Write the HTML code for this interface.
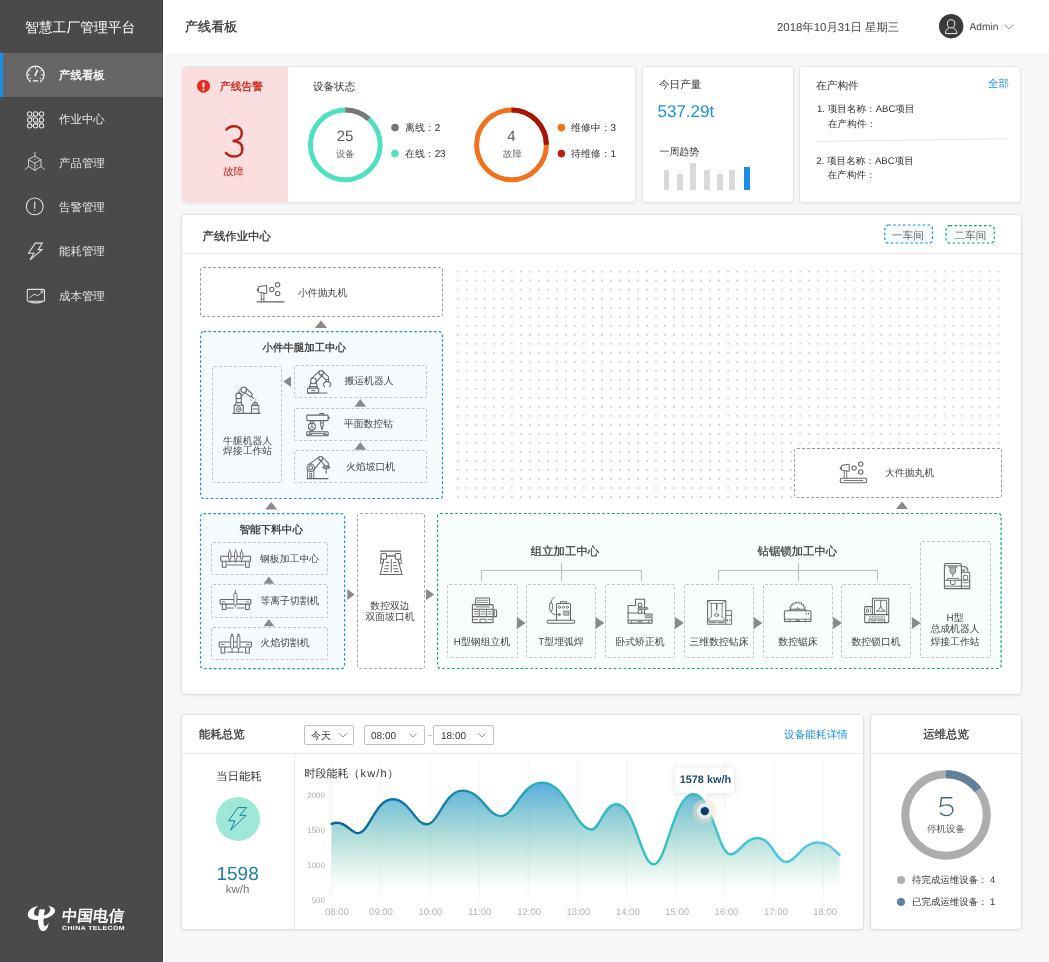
<!DOCTYPE html>
<html lang="zh">
<head>
<meta charset="utf-8">
<title>智慧工厂管理平台</title>
<style>
*{box-sizing:border-box;margin:0;padding:0}
html,body{width:1049px;height:962px;overflow:hidden;background:#f7f7f7}
body{font-family:"Liberation Sans",sans-serif;font-size:10px;color:#333;position:relative;text-rendering:geometricPrecision}
#wrap{position:absolute;left:0;top:0;width:1049px;height:962px;will-change:transform}
.abs{position:absolute}
.t{position:absolute;white-space:nowrap;line-height:1;margin-top:1px}
.c{transform:translateX(-50%)}
#side{position:absolute;left:0;top:0;width:163px;height:962px;background:#4a4a4a}
#side .brand{left:25px;top:19.7px;font-size:13.8px;color:#fff}
#side .act{position:absolute;left:0;top:53px;width:163px;height:44px;background:#666;border-left:3px solid #1b8fe6}
#side .mi{font-size:11.45px;color:#e6e6e6;left:59px}
#side svg{position:absolute}
#head{position:absolute;left:163px;top:0;width:886px;height:53px;background:#fff}
.card{position:absolute;background:#fff;border:1px solid #e6e6e6;border-radius:4px;box-shadow:0 1px 3px rgba(0,0,0,.06)}
.dash{position:absolute;border:1px dashed #9a9a9a;border-radius:3px}
.idash{position:absolute;border:1px dashed #c4c4c4;border-radius:2px}
.bdash{position:absolute;border:1px solid transparent;background-clip:padding-box;border-radius:3px;background:#f5fafe}
.gdash{position:absolute;border:1px solid transparent;background-clip:padding-box;border-radius:3px;background:#f7fdf9}
.lbl{font-size:9.85px;color:#444}
.h{font-size:11.5px;-webkit-text-stroke:.28px;color:#333}
.au{position:absolute;width:0;height:0;border-left:5px solid transparent;border-right:5px solid transparent;border-bottom:8px solid #8a8a8a}
.ar{position:absolute;width:0;height:0;border-top:5px solid transparent;border-bottom:5px solid transparent;border-left:8px solid #8a8a8a}
.al{position:absolute;width:0;height:0;border-top:5px solid transparent;border-bottom:5px solid transparent;border-right:8px solid #8a8a8a}
.ln{position:absolute;background:#bdbdbd}
.dot{position:absolute;border-radius:50%}
.sel{position:absolute;height:20px;border:1px solid #bfbfbf;border-radius:2px;background:#fff}
</style>
</head>
<body>
<div id="wrap">
<!-- SIDEBAR -->
<div id="side">
  <div class="t brand">智慧工厂管理平台</div>
  <div class="act"></div>
  <div class="t mi" style="top:69.6px;color:#fff;-webkit-text-stroke:.3px">产线看板</div>
  <div class="t mi" style="top:114px">作业中心</div>
  <div class="t mi" style="top:158px">产品管理</div>
  <div class="t mi" style="top:202px">告警管理</div>
  <div class="t mi" style="top:246.4px">能耗管理</div>
  <div class="t mi" style="top:290.8px">成本管理</div>
  <svg style="left:0;top:0" width="163" height="962" viewBox="0 0 163 962" fill="none" stroke="#e0e0e0" stroke-width="1.1" stroke-linecap="round" stroke-linejoin="round">
<!-- gauge -->
<g stroke="#fff" stroke-width="1.25">
<path d="M30.4,81.6 A8.6,8.6 0 1 1 40.6,81.6"/>
<path d="M33.4,80.9 L37.6,80.9" stroke-width="1.4"/>
<path d="M35.1,75.6 L37.4,70.3" stroke-width="1.5"/>
<path d="M35.5,67.7 v.9 M29.7,70.3 l.6,.6 M28.5,75 h.9 M41.3,70.3 l-.6,.6 M42.5,75 h-.9 M30.4,78.6 l.6,-.4 M40.6,78.6 l-.6,-.4" stroke-width="1"/>
</g>
<!-- grid -->
<g stroke-width="1.05">
<circle cx="29.6" cy="113.9" r="2.2"/><circle cx="35.5" cy="113.9" r="2.2"/><circle cx="41.5" cy="113.9" r="2.2"/>
<circle cx="29.6" cy="119.9" r="2.2"/><circle cx="35.5" cy="119.9" r="2.2"/><circle cx="41.5" cy="119.9" r="2.2"/>
<circle cx="29.6" cy="125.8" r="2.2"/><circle cx="35.5" cy="125.8" r="2.2"/><circle cx="41.5" cy="125.8" r="2.2"/>
<path d="M37.7,113.9 h1.6 M31.2,118.3 l2.7,-2.8 M37.1,124.2 l2.7,-2.8 M31.8,125.8 h1.5"/>
</g>
<!-- cube -->
<g stroke-width=".9">
<path d="M34.9,156.4 L41,159.8 L41,166.5 L34.9,170.3 L28.6,166.5 L28.6,159.8 Z"/>
<path d="M28.6,159.8 L34.9,163.2 L41,159.8 M34.9,163.2 V170.3"/>
<path d="M34.9,152.3 V156.4 M28.6,166.5 L25.2,169.4 M41,166.5 L44.5,169.4"/>
<path d="M34.9,159.3 v.4 M32,165 v.5 M37.7,165 v.5" stroke-width=".8"/>
</g>
<!-- alert -->
<circle cx="34.7" cy="206.4" r="8.4"/>
<path d="M34.7,202.2 V208.3" stroke-width="1.2"/><circle cx="34.7" cy="210.6" r=".6" fill="#dcdcdc" stroke="none"/>
<!-- bolt -->
<path d="M35.3,243.1 L42.3,243.1 L38.3,249.6 L42,249.6 L30.1,259.8 L33.9,253.2 L28.5,253.2 Z" stroke-linejoin="miter"/>
<!-- monitor -->
<rect x="27.3" y="289.4" width="17.2" height="11.8" rx="1"/>
<path d="M29.6,297.8 L33.9,294.2 L38,295.8 L42.7,291.1 M40.6,291 h2.2 v2.1" stroke-width=".9"/>
<path d="M29.5,301.6 Q35.9,304.2 42.3,301.6" stroke-width="1.3"/>
</svg>
  <svg style="left:0;top:0" width="163" height="962" viewBox="0 0 163 962">
<path d="M38.2,906.1 C31.8,907.2 27.8,910.6 27.8,914.6 C27.8,918.2 31.6,920.3 36.8,919.9 L38.2,919.7 C38,921.9 38.2,924.4 38.8,926.4 C39.7,929.4 41.5,931.2 43.6,931.1 C46.4,930.9 48.4,927.7 48.6,922.6 C47.5,925.2 46.2,926.4 45,926.1 C43.7,925.7 43.3,923 43.6,918.7 C49.2,917.7 53.8,915.2 54.9,911.8 C55.7,909.1 53.2,906.6 48.2,905.7 C50.2,907.3 50.8,909 50.2,910.7 C49.4,913 46.9,914.6 43.9,915.4 C44.1,913.3 44.5,911.3 45.1,909.5 L39.6,909.2 C38.9,911.3 38.5,913.7 38.3,916 C35.6,916.1 34,915 34,913 C34,910.6 35.6,908 38.2,906.1 Z" fill="#fff"/>
</svg>
<div class="t" style="left:60.8px;top:907.6px;font-size:15.4px;color:#fff;font-weight:bold;letter-spacing:.1px;transform:skewX(-7deg);transform-origin:0 100%">中国电信</div>
<div class="t" style="left:61.6px;top:925.2px;font-size:6px;color:#fff;font-weight:bold;letter-spacing:.35px;transform:scaleX(1.16);transform-origin:0 50%">CHINA TELECOM</div>
</div>
<div class="abs" style="left:163px;top:0;width:2px;height:962px;background:#fff"></div>
<div class="abs" style="left:162px;top:0;width:1px;height:962px;background:rgba(0,0,0,.12)"></div>
<!-- HEADER -->
<div id="head">
  <div class="t" style="left:22px;top:19.4px;font-size:13.1px;-webkit-text-stroke:.28px;color:#333">产线看板</div>
  <div class="t" style="left:614px;top:21.7px;font-size:11.4px;color:#444">2018年10月31日 星期三</div>
  <svg class="abs" style="left:775px;top:14px" width="26" height="26" viewBox="0 0 26 26"><circle cx="13.2" cy="12.2" r="12.2" fill="#3a3a3a"/><ellipse cx="13.1" cy="9.8" rx="3.7" ry="4.1" fill="none" stroke="#f2f2f2" stroke-width="1"/><path d="M11,13.4 C10.6,15.5 7.5,15.8 7.5,17.7 V19.6 H18.8 V17.7 C18.8,15.8 15.7,15.5 15.3,13.4" fill="none" stroke="#f2f2f2" stroke-width="1" stroke-linejoin="round"/></svg>
<svg class="abs" style="left:841px;top:23.6px" width="10" height="6" viewBox="0 0 10 6"><path d="M.7,.7 L5,5 L9.3,.7" fill="none" stroke="#999" stroke-width="1"/></svg>
  <div class="t" style="left:806.5px;top:21.6px;font-size:10.2px;color:#444">Admin</div>
</div>
<!-- ROW 1 -->
<div class="card" style="left:182px;top:66px;width:454px;height:137px"></div>
<div class="abs" style="left:182px;top:66.6px;width:105.6px;height:135.8px;background:#fbdfde;border-radius:4px 0 0 4px"></div>
<div class="t" style="left:220px;top:80.8px;font-size:10.75px;-webkit-text-stroke:.3px;color:#c8271b">产线告警</div>
<div class="t c" style="left:233.6px;top:166.7px;font-size:10.4px;color:#c8271b">故障</div>
<div class="t" style="left:313px;top:80.8px;font-size:10.55px;color:#333">设备状态</div>
<div class="t c" style="left:345px;top:127.5px;font-size:15px;color:#5a5a5a">25</div>
<div class="t c" style="left:345.3px;top:149.4px;font-size:9.3px;color:#666">设备</div>
<div class="t" style="left:405px;top:122.5px;font-size:9.9px;color:#333">离线：2</div>
<div class="t" style="left:405px;top:148.5px;font-size:9.9px;color:#333">在线：23</div>
<div class="t c" style="left:511.3px;top:127.5px;font-size:15px;color:#5a5a5a">4</div>
<div class="t c" style="left:512.4px;top:149.4px;font-size:9.3px;color:#666">故障</div>
<div class="t" style="left:571px;top:122.5px;font-size:9.9px;color:#333">维修中：3</div>
<div class="t" style="left:571px;top:148.5px;font-size:9.9px;color:#333">待维修：1</div>
<div class="card" style="left:642px;top:66px;width:152px;height:137px"></div>
<div class="t" style="left:659px;top:79.2px;font-size:10.6px;color:#333">今日产量</div>
<div class="t" style="left:657.5px;top:102px;font-size:17px;color:#1b8fe6">537.29t</div>
<div class="t" style="left:659.5px;top:146.7px;font-size:9.9px;color:#333">一周趋势</div>
<div class="abs" style="left:663.6px;top:170px;width:5.8px;height:20px;background:#d9d9d9"></div>
<div class="abs" style="left:676.9px;top:174px;width:5.8px;height:16px;background:#d9d9d9"></div>
<div class="abs" style="left:689.9px;top:163px;width:5.8px;height:27px;background:#d9d9d9"></div>
<div class="abs" style="left:703.8px;top:170px;width:5.8px;height:20px;background:#d9d9d9"></div>
<div class="abs" style="left:717px;top:174px;width:5.8px;height:16px;background:#d9d9d9"></div>
<div class="abs" style="left:729.2px;top:170px;width:5.8px;height:20px;background:#d9d9d9"></div>
<div class="abs" style="left:744px;top:166.5px;width:5.8px;height:23.5px;background:#1b8fe6"></div>
<div class="card" style="left:799px;top:66px;width:222px;height:137px"></div>
<div class="t" style="left:816px;top:80.3px;font-size:10.7px;color:#333">在产构件</div>
<div class="t" style="left:988px;top:78.7px;font-size:10.4px;color:#1b8fe6">全部</div>
<div class="t" style="left:817px;top:104.2px;font-size:9.6px;color:#333">1. 项目名称：ABC项目</div>
<div class="t" style="left:828px;top:118.7px;font-size:9.6px;color:#333">在产构件：</div>
<div class="t" style="left:816.3px;top:155.8px;font-size:9.6px;color:#333">2. 项目名称：ABC项目</div>
<div class="t" style="left:827.5px;top:170.3px;font-size:9.6px;color:#333">在产构件：</div>
<svg class="abs" style="left:0;top:0" width="1049" height="220" viewBox="0 0 1049 220">
  <circle cx="203.5" cy="86.2" r="6.5" fill="#e8291c"/><rect x="202.5" y="82.2" width="2" height="5.2" rx="1" fill="#fff"/><circle cx="203.5" cy="89.6" r="1.1" fill="#fff"/>
  <path d="M225.9,130.4 C227.7,127.5 230.6,126.2 234.1,126.2 C238.8,126.2 241.8,129 241.8,133.2 C241.8,137.6 238.4,140.7 232.6,141 C239,141.2 242.4,144.3 242.4,148.9 C242.4,153.6 239,156.6 234.1,156.6 C230.2,156.6 227.2,155 225.5,152.2" fill="none" stroke="#b8201a" stroke-width="2.5" stroke-linecap="butt"/>
  <circle cx="345.3" cy="144.85" r="34.9" fill="none" stroke="#4fe0c0" stroke-width="5"/>
  <path d="M345.3,109.95 A34.9,34.9 0 0 1 368.65,118.9" fill="none" stroke="#777" stroke-width="5"/>
  <circle cx="511.5" cy="144.85" r="34.9" fill="none" stroke="#f2711c" stroke-width="5"/>
  <path d="M511.5,109.95 A34.9,34.9 0 0 1 546.4,144.85" fill="none" stroke="#a5130a" stroke-width="5"/>
  <circle cx="395" cy="127.6" r="3.8" fill="#777"/><circle cx="395" cy="153.6" r="3.8" fill="#4fe0c0"/>
  <circle cx="561.4" cy="127.6" r="3.8" fill="#f2711c"/><circle cx="561.4" cy="153.6" r="3.8" fill="#b42318"/>
  <path d="M816.3,141.5 L1007.5,138.7" stroke="#e4e4e4" stroke-width="1" fill="none"/>
</svg>
<!-- WORKSHOP -->
<div class="card" style="left:181px;top:214px;width:841px;height:481px;border-color:#e0e0e0"></div>
<div class="t" style="left:202.5px;top:231.3px;font-size:11.43px;-webkit-text-stroke:.28px;color:#333">产线作业中心</div>
<div class="abs" style="left:182px;top:253px;width:839px;height:1px;background:#e8e8e8"></div>
<div class="abs" style="left:884px;top:224.5px;width:49.5px;height:19px;border:1px solid transparent;background-clip:padding-box;border-radius:3px;background:#f5fafe"></div>
<div class="t c" style="left:908px;top:229.8px;font-size:10.6px;color:#666">一车间</div>
<div class="abs" style="left:945.5px;top:225px;width:49.5px;height:18.5px;border:1px solid transparent;background-clip:padding-box;border-radius:3px;background:#f7fdf9"></div>
<div class="t c" style="left:970.4px;top:229.8px;font-size:10.6px;color:#666">二车间</div>
<!-- dot grid -->
<svg class="abs" style="left:0;top:0" width="1049" height="520" viewBox="0 0 1049 520"><defs><pattern id="dots" x="453.2" y="267.1" width="9.013" height="9.013" patternUnits="userSpaceOnUse"><circle cx="4.5" cy="4.5" r=".9" fill="#c2c2c2"/></pattern></defs><rect x="453.2" y="267.1" width="549.7" height="234.3" fill="url(#dots)"/></svg>
<!-- small shot blast -->
<div class="dash" style="left:200px;top:267px;width:243px;height:50px;background:#fff"></div>
<div class="t lbl" style="left:298px;top:288px">小件抛丸机</div>
<!-- blue box 1 -->
<div class="bdash" style="left:200px;top:331px;width:243px;height:168px"></div>
<div class="t c h" style="left:304.2px;top:342.8px;font-size:10.45px">小件牛腿加工中心</div>
<div class="idash" style="left:212px;top:366px;width:70px;height:117px"></div>
<div class="t c lbl" style="left:247.6px;top:436px">牛腿机器人</div>
<div class="t c lbl" style="left:247.6px;top:446px">焊接工作站</div>
<div class="idash" style="left:294px;top:365px;width:133px;height:33px"></div>
<div class="idash" style="left:294px;top:408px;width:133px;height:33px"></div>
<div class="idash" style="left:294px;top:450px;width:133px;height:33px"></div>
<div class="t c lbl" style="left:369px;top:376px">搬运机器人</div>
<div class="t c lbl" style="left:368.4px;top:419.4px">平面数控钻</div>
<div class="t c lbl" style="left:370.6px;top:461.8px">火焰坡口机</div>
<!-- blue box 2 -->
<div class="bdash" style="left:200px;top:513px;width:145px;height:156px"></div>
<div class="t c h" style="left:271.2px;top:524px;font-size:10.6px">智能下料中心</div>
<div class="idash" style="left:211px;top:542px;width:117px;height:33px"></div>
<div class="idash" style="left:211px;top:584px;width:117px;height:34px"></div>
<div class="idash" style="left:211px;top:627px;width:117px;height:33px"></div>
<div class="t lbl" style="left:260px;top:554px">钢板加工中心</div>
<div class="t lbl" style="left:260.3px;top:596px">等离子切割机</div>
<div class="t lbl" style="left:260.3px;top:638.4px">火焰切割机</div>
<!-- gray box -->
<div class="dash" style="left:357px;top:513px;width:68px;height:156px;border-color:#a8a8a8;background:#fff"></div>
<div class="t c lbl" style="left:390px;top:601px">数控双边</div>
<div class="t c lbl" style="left:390px;top:612px">双面坡口机</div>
<!-- green box -->
<div class="gdash" style="left:437px;top:513px;width:565px;height:156px"></div>
<div class="t c h" style="left:565px;top:545.8px;font-size:11.4px;color:#444">组立加工中心</div>
<div class="t c h" style="left:797.4px;top:545.6px;font-size:11.4px;color:#444">钻锯锁加工中心</div>
<div class="ln" style="left:481px;top:570px;width:161px;height:1px"></div>
<div class="ln" style="left:481px;top:570px;width:1px;height:11px"></div>
<div class="ln" style="left:641px;top:570px;width:1px;height:11px"></div>
<div class="ln" style="left:561px;top:563px;width:1px;height:18px"></div>
<div class="ln" style="left:718px;top:570px;width:160px;height:1px"></div>
<div class="ln" style="left:718px;top:570px;width:1px;height:11px"></div>
<div class="ln" style="left:877px;top:570px;width:1px;height:11px"></div>
<div class="ln" style="left:798px;top:563px;width:1px;height:18px"></div>
<div class="idash" style="left:447px;top:584px;width:71px;height:74px"></div>
<div class="idash" style="left:526px;top:584px;width:70px;height:74px"></div>
<div class="idash" style="left:605px;top:584px;width:70px;height:74px"></div>
<div class="idash" style="left:684px;top:584px;width:70px;height:74px"></div>
<div class="idash" style="left:763px;top:584px;width:70px;height:74px"></div>
<div class="idash" style="left:841px;top:584px;width:70px;height:74px"></div>
<div class="idash" style="left:920px;top:541px;width:71px;height:117px"></div>
<div class="t c lbl" style="left:482px;top:637px">H型钢组立机</div>
<div class="t c lbl" style="left:561px;top:637px">T型埋弧焊</div>
<div class="t c lbl" style="left:640px;top:637px">卧式矫正机</div>
<div class="t c lbl" style="left:719px;top:637px">三维数控钻床</div>
<div class="t c lbl" style="left:798px;top:637px">数控锯床</div>
<div class="t c lbl" style="left:876px;top:637px">数控锁口机</div>
<div class="t c lbl" style="left:955px;top:613px">H型</div>
<div class="t c lbl" style="left:955px;top:624px">总成机器人</div>
<div class="t c lbl" style="left:955px;top:637px">焊接工作站</div>
<svg class="abs" style="left:0;top:0" width="1049" height="700" viewBox="0 0 1049 700" fill="#8a8a8a"><polygon points="321.0,320.4 327.2,328.0 314.8,328.0"/><polygon points="360.3,399.0 366.1,406.8 354.5,406.8"/><polygon points="360.3,441.9 366.1,449.8 354.5,449.8"/><polygon points="271.2,502.0 277.2,509.6 265.2,509.6"/><polygon points="268.9,576.6 274.3,583.8 263.5,583.8"/><polygon points="268.9,619.0 274.3,626.2 263.5,626.2"/><polygon points="347.3,589.1 354.6,594.5 347.3,599.9"/><polygon points="426.0,589.1 434.3,594.5 426.0,599.9"/><polygon points="516.8,616.9 525.6,622.9 516.8,628.9"/><polygon points="595.5,616.9 604.3,622.9 595.5,628.9"/><polygon points="675.0,616.9 683.8,622.9 675.0,628.9"/><polygon points="753.6,616.9 762.4,622.9 753.6,628.9"/><polygon points="833.1,616.9 841.9,622.9 833.1,628.9"/><polygon points="911.9,616.9 920.7,622.9 911.9,628.9"/><polygon points="902.0,501.4 908.0,509.0 896.0,509.0"/><polygon points="291.0,376.2 283.4,381.6 291.0,387.0"/></svg>
<!-- big shot blast -->
<div class="dash" style="left:794px;top:448px;width:208px;height:50px;background:#fff"></div>
<div class="t lbl" style="left:885px;top:468px">大件抛丸机</div>
<svg class="abs" style="left:0;top:0" width="1049" height="962" viewBox="0 0 1049 962" fill="none" stroke="#666" stroke-width="1.05" stroke-linecap="round" stroke-linejoin="round">
<!-- 1 small shot blast -->
<g>
<path d="M257.2,301.9 H284" stroke-width="1.3"/>
<path d="M259.4,286.4 L265.8,285.4 Q266.7,285.3 266.7,286.3 V292.5 Q266.7,293.5 265.8,293.4 L259.4,292.3 Q258.5,292.1 258.5,291.2 V287.5 Q258.5,286.6 259.4,286.4 Z"/>
<path d="M257.6,289.3 v1.2" stroke-width="1.4"/>
<path d="M261.3,293 V301.5 M263.9,293.3 V301.5 M261.3,299 H263.9" stroke-width=".9"/>
<circle cx="271.8" cy="289.5" r="2.2"/><circle cx="277.6" cy="284.8" r="2.2"/><circle cx="277.7" cy="293.6" r="2.2"/>
</g>
<!-- 17 big shot blast -->
<g>
<rect x="840.3" y="478.3" width="26.3" height="4.4" rx="1.2"/>
<path d="M844.2,480.5 H862.8" stroke-width=".9"/>
<path d="M842.3,465.2 L848.3,464.3 Q849.2,464.2 849.2,465.2 V470.5 Q849.2,471.5 848.3,471.3 L842.3,470.2 Q841.4,470 841.4,469.1 V466.3 Q841.4,465.4 842.3,465.2 Z"/>
<path d="M840.5,467.7 v1.2" stroke-width="1.4"/>
<path d="M844.2,470.8 V478 M846.7,471.1 V478" stroke-width=".9"/>
<circle cx="854.1" cy="468.1" r="2.2"/><circle cx="860.7" cy="464.1" r="2.2"/><circle cx="860.7" cy="472" r="2.2"/>
</g>
<!-- 2 handling robot -->
<g>
<path d="M307.5,393 H327" stroke-width="1.2"/>
<rect x="307.5" y="388.2" width="11.2" height="4.8" rx=".8"/>
<path d="M311.8,390.6 H314.8" stroke-width="1"/>
<path d="M309,388 L310.9,382.6 M317.7,388 L316.2,382.6 M309.6,386.6 H317.3"/>
<circle cx="313.4" cy="380.8" r="2.9"/>
<path d="M311.3,378.7 L319.6,371.2 M315.6,382.8 L322.4,375.2"/>
<circle cx="321.2" cy="372.8" r="2.2"/>
<path d="M322.9,371.3 L328.6,376.9 V379.3 M320.6,375.2 L325.8,379.3"/>
<path d="M325.8,379.4 H328.6 V381.6 H325.8 Z"/>
<path d="M326,381.7 Q323,383.2 323.4,384.6 Q323.8,385.8 324.6,386.6 M328.4,381.7 Q331.3,383.2 330.8,384.6 Q330.4,385.8 329.6,386.6"/>
</g>
<!-- 3 drill -->
<g>
<rect x="306.8" y="415.1" width="21.3" height="5.5" rx=".6"/>
<path d="M319.8,415 V413.5 H323.7 V415 M328.3,417.2 L329.5,417.8 L328.3,418.5"/>
<path d="M310.7,420.8 V423.2 M313.1,420.8 V423.2"/>
<circle cx="311.9" cy="426.6" r="3.5"/>
<path d="M311.9,423.4 V426.6 L314.6,428.6 M311.9,426.6 L309.2,428.6" stroke-width=".9"/>
<path d="M320.6,420.8 V425.2 L322,430 L323.4,425.2 V420.8 M320.6,423 H323.4 M322,425.5 V429" stroke-width=".9"/>
<path d="M311.2,430.2 V431.6 M312.6,430.2 V431.6"/>
<rect x="306.8" y="431.7" width="21.3" height="4" rx=".4"/>
<path d="M309.5,431.8 V433.6 H325.4 V431.8 M307,434.6 H311.5 M323.5,434.6 H328" stroke-width=".9"/>
</g>
<!-- 4 flame bevel robot -->
<g>
<path d="M307.1,478.6 H328" stroke-width="1.2"/>
<path d="M307.6,469.8 V478.4 M313.8,470.2 V478.4 M309.9,478.4 V473.2 H311.6 V478.4" stroke-width=".9"/>
<circle cx="310.7" cy="467.7" r="3.8"/><circle cx="310.7" cy="467.7" r="1.9"/>
<path d="M308.9,464.4 L319.3,456.8 M313.6,470.1 L321.6,460.4"/>
<circle cx="320.7" cy="458.4" r="2"/>
<path d="M322.2,457 L328.4,463.2 V465.4 M320.6,460.5 L324.6,465.4"/>
<ellipse cx="326.2" cy="467.2" rx="3.6" ry="1.6" fill="#9a9a9a" stroke-width=".8"/>
<path d="M326.2,469 V473.2"/>
</g>
<!-- 5 welding robot station -->
<g>
<path d="M233.1,413.4 H259.9" stroke-width="1.2"/>
<rect x="234.2" y="405.2" width="9.1" height="8.2" rx=".4"/>
<circle cx="238.7" cy="409.2" r="2.5" stroke-width=".9"/><circle cx="238.7" cy="409.2" r=".9" stroke-width=".7"/>
<path d="M235,405 L236.3,402.6 H241.2 L242.4,405 M236.3,402.5 V398 M241.2,402.5 V398"/>
<circle cx="238.5" cy="396" r="2.7"/>
<path d="M236.5,394.1 L241.8,387.8 M240.9,397.4 L245.6,391.8 M238.5,391.7 L242.8,395.2" stroke-width=".95"/>
<circle cx="243.7" cy="389.8" r="2.7"/>
<path d="M245.7,388 L251.9,393.6 Q252.6,394.6 251.8,395.6 L250.6,396.8 L244.6,392.4 M251.2,396.2 L253.6,398.4"/>
<path d="M250.4,399.8 l1.8,.9 M255.4,399.6 l1,-1.4 M255,400.2 v1" stroke="#aaa" stroke-width=".8"/>
<rect x="251.5" y="405.4" width="7.3" height="8" rx=".5"/>
<path d="M252.3,405.2 Q252.6,402 255.2,401.8 Q257.8,402 258.1,405.2 Z" fill="#a8a8a8" stroke-width=".8"/>
<path d="M253,409 H257.5" stroke-width="1.1"/>
</g>
<!-- 6 plate processing center -->
<g>
<rect x="220.7" y="556.3" width="29.8" height="4.9" rx=".6"/>
<path d="M222.3,561.4 V567.2 H226 V561.4 M245.6,561.4 V567.2 H249.3 V561.4"/>
<path d="M227.6,565 H244" stroke-width=".9"/>
<g stroke-width=".9">
<path d="M229.7,549.6 V551.6 M229.7,559.4 V562.4"/><rect x="228.5" y="551.6" width="2.4" height="7.8" rx="1.2" fill="#fff"/>
<path d="M235.7,549.6 V551.6 M235.7,559.4 V562.4"/><rect x="234.5" y="551.6" width="2.4" height="7.8" rx="1.2" fill="#fff"/>
<path d="M241.6,549.6 V551.6 M241.6,559.4 V562.4"/><rect x="240.4" y="551.6" width="2.4" height="7.8" rx="1.2" fill="#fff"/>
</g>
</g>
<!-- 7 plasma cutter -->
<g>
<rect x="220.1" y="599.4" width="30.7" height="4.7" rx=".6"/>
<path d="M222.3,604.3 V609.5 H226 V604.3 M245.6,604.3 V609.5 H249.3 V604.3"/>
<path d="M227,608 H233.6 M237.3,608 H244 M222.5,601.8 h2.5 M246,601.8 h2.5" stroke-width=".9"/>
<path d="M235.4,590.3 V593 M235.4,605.3 V606.8" stroke-width=".9"/>
<rect x="233.9" y="593" width="3" height="12.3" rx="1.4" fill="#f5fafe" stroke-width=".9"/>
</g>
<!-- 8 flame cutter -->
<g>
<rect x="219.2" y="642" width="32.2" height="5" rx=".6"/>
<path d="M221.1,647.2 V653 H224.8 V647.2 M245.6,647.2 V653 H249.3 V647.2"/>
<path d="M227.2,652.2 H243.4 M221.5,644.5 h2.5 M246.5,644.5 h2.5" stroke-width=".9"/>
<g stroke-width=".9">
<path d="M232.1,634 V636.2 M232.1,648.2 V652 M231.3,634.6 h1.6"/><rect x="230.7" y="636.2" width="2.8" height="12" rx=".6" fill="#f5fafe"/>
<path d="M238.5,634 V636.2 M238.5,648.2 V652 M237.7,634.6 h1.6"/><rect x="237.1" y="636.2" width="2.8" height="12" rx=".6" fill="#f5fafe"/>
</g>
</g>
<!-- 9 double bevel -->
<g>
<path d="M380.3,551.2 H400.4" stroke-width="1.2"/>
<rect x="381" y="553.5" width="5.5" height="5.7" rx="1"/><rect x="395.3" y="553.5" width="5.4" height="5.7" rx="1"/>
<path d="M386.6,555.3 H395.2 M386.6,556.4 H395.2" stroke-width=".8"/>
<path d="M381,558 L380.3,563.4 H382.7 L383.6,559.4 M400.7,558 L401.5,563.4 H399.2 L398.2,559.4" stroke-width=".9"/>
<path d="M383.8,559.6 L380.2,574.5 H402 L398,559.6"/>
<path d="M391.3,559.4 V572" stroke-width="1"/>
<path d="M386.4,562.5 H388.8 M385.6,565.7 H388.6 M384.6,568.8 H388.4 M383.8,571.6 H388 M393.6,562.5 H396 M393.8,565.7 H396.8 M394,568.8 H397.8 M394.4,571.6 H398.6" stroke-width="1"/>
</g>
<!-- 10 H-beam assembly -->
<g>
<rect x="475.6" y="598" width="13.9" height="6.6" rx=".6"/>
<path d="M477.3,600.3 H487.8 M477.3,602.4 H487.8" stroke-width=".8" stroke-dasharray="1.4 .8"/>
<rect x="472.4" y="604.6" width="20.7" height="18" rx=".8"/>
<path d="M472.6,609.3 H492.9 M472.6,616.6 H492.9 M479.2,609.4 V616.5 M486.3,609.4 V616.5"/>
<path d="M476,606.9 H489.6" stroke-width=".9" stroke-dasharray="1.4 .8"/>
<path d="M474.2,611.7 H477.6 M474.2,614 H477.6 M481,611.7 H484.5 M481,614 H484.5 M488,611.7 H491.3 M488,614 H491.3" stroke-width=".8"/>
<path d="M480,622.4 V619.2 H486 V622.4 M473.5,619.6 H477.5 M488,619.6 H492" stroke-width=".9"/>
<rect x="494.1" y="609.7" width="2.5" height="6.9" rx=".7"/>
<path d="M493.2,613.1 H494"/>
</g>
<!-- 11 T submerged arc welder -->
<g>
<rect x="547.3" y="620.3" width="27.4" height="2.9" rx="1.2"/>
<path d="M556.5,620 V604.6 Q556.5,603.5 557.6,603.5 H569.4 Q570.5,603.5 570.5,604.6 V620"/>
<path d="M560.4,603.4 V601.8 H566.4 V603.4"/>
<circle cx="559.4" cy="607.2" r="1.1" stroke-width=".8"/><circle cx="563.4" cy="607.2" r="1.1" stroke-width=".8"/><circle cx="567.4" cy="607.2" r="1.1" stroke-width=".8"/>
<rect x="564" y="611" width="5" height="4.2" fill="#b8b8b8" stroke-width=".6"/>
<circle cx="559.4" cy="614.6" r="1.1" fill="#888" stroke-width=".6"/>
<path d="M558.2,614.6 Q551.4,615.4 551,610.8" stroke-width=".9"/>
<rect x="549.6" y="602.8" width="2.8" height="8" rx="1.2" stroke-width=".9"/>
<path d="M551,602.6 Q551.4,599 554.2,597" stroke-width=".9"/>
</g>
<!-- 12 straightening -->
<g>
<path d="M635.5,605.4 V599.3 H644.6 V614"/>
<path d="M635.4,605.4 H628.1 V623.1 H652 V614 H644.6"/>
<path d="M628.2,612.9 H638 M642,612.9 H644.5 M628.2,620.3 H652"/>
<circle cx="640" cy="604.9" r="1.9"/><circle cx="640" cy="611.7" r="1.9"/>
<rect x="637.8" y="607.4" width="10.2" height="2" rx="1" fill="#aaa" stroke-width=".7"/>
<rect x="645.6" y="615.6" width="4.8" height="2.4" fill="#bdbdbd" stroke-width=".6"/>
<path d="M631.5,620.5 V623 M648.5,620.5 V623 M638,621.6 h4" stroke-width=".8"/>
</g>
<!-- 13 3D drill -->
<g>
<rect x="707.6" y="600.5" width="18.2" height="20.4" rx=".6"/>
<path d="M707.8,600.7 L711.2,603.4 M725.6,600.7 L722.2,603.4 M707.8,620.6 L711.4,616.6 M725.6,620.6 L722,616.6 M711.2,603.4 H722.2 M711.2,603.4 L711.4,616.6 M722.2,603.4 L722,616.6" stroke-width=".8"/>
<path d="M716.7,604 V609.2" stroke-width="1.5"/><circle cx="716.7" cy="611.2" r=".6" fill="#6e6e6e" stroke="none"/>
<ellipse cx="716.7" cy="615" rx="2" ry="1.4" stroke-width=".9"/>
<path d="M707.6,620.9 V624.3 H731.6 V610.6 H725.8 M709.4,622.6 H716 M718,622.6 H724" stroke-width=".9"/>
<path d="M725.8,620.9 V624.2 M726,615.4 H731.4 M727.4,619.5 v1.6 M729.8,619.5 v1.6" stroke-width=".9"/>
</g>
<!-- 14 saw -->
<g>
<rect x="784.4" y="610.8" width="26.5" height="10.7" rx="1"/>
<path d="M784.6,619.2 H810.7 M790,619.4 V621.3 M805.4,619.4 V621.3 M806.3,613 v1.2 M808.4,613 v1.2 M796,620.3 h3.5" stroke-width=".9"/>
<path d="M789.8,610.6 V609.2 H805.7 V610.6"/>
<path d="M791,609 L789.6,607.4 L791.4,607 L790.8,604.8 L792.8,605.2 L793,602.9 L794.8,604 L795.7,601.8 L797,603.4 L798.6,601.6 L799.4,603.6 L801.5,602.5 L801.6,604.8 L803.8,604.4 L803.2,606.6 L805.4,607 L804.2,609" stroke-width=".9"/>
<path d="M796.2,609 Q797.7,605.8 799.2,609" stroke-width=".9"/>
</g>
<!-- 15 lock machine -->
<g>
<path d="M872.4,614.4 V598.2 H888.7 V614.6"/>
<path d="M874.5,614.4 V600.3 H886.7 V614.4" stroke-width=".9"/>
<path d="M880.7,600.4 V606 Q880.4,609.4 876.4,611.2 H885.2 Q881,609.4 880.7,606" stroke-width=".9"/>
<path d="M872.4,606.6 H865.6 Q864.7,606.6 864.7,607.5 V621.6 Q864.7,622.6 865.6,622.6 H887.8 Q888.7,622.6 888.7,621.6 V614.6 M864.8,614.6 H888.6"/>
<ellipse cx="867.5" cy="610.6" rx="1" ry="2" stroke-width=".9"/>
<path d="M870.5,608.6 v.3 M870.5,610.4 v.3 M870.5,612.2 v.3" stroke-width=".8"/>
<path d="M869,616.8 H885" stroke-width="1.2" stroke-dasharray=".8 .7" stroke-linecap="butt"/>
<path d="M869,622.4 V619 H884.6 V622.4 M871,620.8 H876 M878,620.8 H883" stroke-width=".9"/>
</g>
<!-- 16 H total robot station -->
<g>
<path d="M944.4,588.6 V565 Q944.4,563.5 945.9,563.5 H959.9 Q961.4,563.5 961.4,565 V588.6 Z"/>
<path d="M944.6,565.8 H961.2 M944.6,580.3 H969.5 M944.6,586.2 H969.5" stroke-width=".9"/>
<path d="M948.8,566.8 H956.8 L955.4,568.6 V572.6 L952.8,574.6 L950.2,572.6 V568.6 Z" fill="#b5b5b5" stroke-width=".8"/>
<path d="M952.8,574.6 V576.4" stroke-width=".9"/>
<path d="M947.4,580.2 V578.9 Q947.4,578.4 947.9,578.4 H958.1 Q958.6,578.4 958.6,578.9 V580.2" stroke-width=".9"/>
<path d="M950.6,580.4 V583.4 Q950.6,584.5 951.7,584.5 H953.9 Q955,584.5 955,583.4 V580.4" stroke-width=".9"/>
<path d="M961.4,572.2 H968.7 Q969.7,572.2 969.7,573.2 V588.6 H961.4"/>
<rect x="963.4" y="575.4" width="4.2" height="4.2" rx=".8" stroke-width=".9"/>
<path d="M963,582.6 H968.2" stroke-width="1.3" stroke="#999"/>
<path d="M961.5,566.6 H965.6 Q967.8,566.8 967.8,569 V572.2 M964.4,566.8 L967.6,569.8" stroke-width=".9"/>
<circle cx="963.2" cy="570.4" r="1.1" stroke-width=".8"/>
</g>
</svg>


<svg class="abs" style="left:0;top:0" width="1049" height="700" viewBox="0 0 1049 700" fill="none" stroke-width="1.2" stroke-dasharray="2.6 2.3" stroke-linecap="butt">
<g stroke="#1b8ee8"><rect x="200.6" y="331.7" width="241.9" height="166.8" rx="3"/><rect x="200.5" y="513.6" width="144.1" height="155" rx="3"/><rect x="884.8" y="225" width="47.7" height="18" rx="3.5"/></g>
<g stroke="#15a078"><rect x="437.5" y="513.5" width="563.6" height="155" rx="3"/><rect x="946.1" y="225.6" width="48.2" height="17.4" rx="3.5"/></g>
</svg>
<!-- ENERGY -->
<div class="card" style="left:181px;top:714px;width:683px;height:216px;border-color:#e0e0e0"></div>
<div class="abs" style="left:182px;top:753px;width:681px;height:1px;background:#e8e8e8"></div>
<div class="abs" style="left:294px;top:754px;width:1px;height:175px;background:#ececec"></div>
<div class="t" style="left:199px;top:729.3px;font-size:11.4px;-webkit-text-stroke:.28px;color:#333">能耗总览</div>
<div class="sel" style="left:304px;top:725px;width:50px"></div>
<div class="t" style="left:311px;top:731.2px;font-size:10px;color:#333">今天</div>
<svg class="abs" style="left:339px;top:732.5px" width="8" height="5" viewBox="0 0 8 5"><path d="M0.5,0.5 L4,4 L7.5,0.5" fill="none" stroke="#888" stroke-width="0.9"/></svg>
<div class="sel" style="left:364px;top:725px;width:61px"></div>
<div class="t" style="left:371px;top:731.2px;font-size:10px;color:#333">08:00</div>
<svg class="abs" style="left:409px;top:732.5px" width="8" height="5" viewBox="0 0 8 5"><path d="M0.5,0.5 L4,4 L7.5,0.5" fill="none" stroke="#888" stroke-width="0.9"/></svg>
<div class="abs" style="left:427.6px;top:735px;width:4.4px;height:1px;background:#c2c2c2"></div>
<div class="sel" style="left:433px;top:725px;width:61px"></div>
<div class="t" style="left:441px;top:731.2px;font-size:10px;color:#333">18:00</div>
<svg class="abs" style="left:478px;top:732.5px" width="8" height="5" viewBox="0 0 8 5"><path d="M0.5,0.5 L4,4 L7.5,0.5" fill="none" stroke="#888" stroke-width="0.9"/></svg>
<div class="t" style="left:784px;top:728.5px;font-size:10.67px;color:#1b8fe6">设备能耗详情</div>
<div class="t c" style="left:238.9px;top:771px;font-size:11.25px;color:#333">当日能耗</div>
<div class="dot" style="left:215.6px;top:796.6px;width:44.4px;height:44.4px;background:#9fe8d8"></div>
<svg class="abs" style="left:220px;top:800px" width="36" height="36" viewBox="220 800 36 36"><path d="M237.9,807.6 L246.7,807.6 L239.6,815.3 L246.1,815.3 L230.7,830.1 L234.9,820.8 L228.6,820.8 Z" fill="none" stroke="#1c7c9c" stroke-width="1" stroke-linejoin="miter"/></svg>
<div class="t c" style="left:237.6px;top:864px;font-size:19px;color:#1b7fa3">1598</div>
<div class="t c" style="left:237.6px;top:884px;font-size:11.5px;color:#777">kw/h</div>
<div class="t" style="right:724px;top:791px;font-size:8px;color:#aaa">2000</div>
<div class="t" style="right:724px;top:825.5px;font-size:8px;color:#aaa">1500</div>
<div class="t" style="right:724px;top:861px;font-size:8px;color:#aaa">1000</div>
<div class="t" style="right:724px;top:895.5px;font-size:8px;color:#aaa">500</div>
<svg class="abs" style="left:0;top:0" width="1049" height="962" viewBox="0 0 1049 962">
<defs>
<linearGradient id="ga" gradientUnits="userSpaceOnUse" x1="0" y1="782" x2="0" y2="890">
<stop offset="0" stop-color="#4fa8dc" stop-opacity=".95"/>
<stop offset=".3" stop-color="#70bfcd" stop-opacity=".8"/>
<stop offset=".6" stop-color="#8ecfc4" stop-opacity=".55"/>
<stop offset=".85" stop-color="#a6dcc8" stop-opacity=".25"/>
<stop offset="1" stop-color="#b8e4cc" stop-opacity="0"/>
</linearGradient>
<linearGradient id="gs" gradientUnits="userSpaceOnUse" x1="331" y1="0" x2="840" y2="0">
<stop offset="0" stop-color="#0f5f96"/>
<stop offset=".18" stop-color="#1577a8"/>
<stop offset=".45" stop-color="#2fb4bc"/>
<stop offset=".75" stop-color="#36c6c6"/>
<stop offset="1" stop-color="#5cc6f4"/>
</linearGradient>
</defs>
<line x1="331.6" y1="761" x2="331.6" y2="900" stroke="#f0f5f5" stroke-width="1"/><line x1="380.8" y1="761" x2="380.8" y2="900" stroke="#f0f5f5" stroke-width="1"/><line x1="429.9" y1="761" x2="429.9" y2="900" stroke="#f0f5f5" stroke-width="1"/><line x1="479.1" y1="761" x2="479.1" y2="900" stroke="#f0f5f5" stroke-width="1"/><line x1="528.2" y1="761" x2="528.2" y2="900" stroke="#f0f5f5" stroke-width="1"/><line x1="577.4" y1="761" x2="577.4" y2="900" stroke="#f0f5f5" stroke-width="1"/><line x1="626.5" y1="761" x2="626.5" y2="900" stroke="#f0f5f5" stroke-width="1"/><line x1="675.7" y1="761" x2="675.7" y2="900" stroke="#f0f5f5" stroke-width="1"/><line x1="724.8" y1="761" x2="724.8" y2="900" stroke="#f0f5f5" stroke-width="1"/><line x1="774.0" y1="761" x2="774.0" y2="900" stroke="#f0f5f5" stroke-width="1"/><line x1="823.1" y1="761" x2="823.1" y2="900" stroke="#f0f5f5" stroke-width="1"/>
<path d="M331.6,823.8 C333.2,823.2 334.8,822.7 337.0,822.7 C347.4,822.7 350.7,833.1 357.8,833.1 C369.6,833.1 375.1,799.3 392.5,799.3 C409.5,799.3 414.9,824.3 426.5,824.3 C438.7,824.3 444.4,790.6 462.4,790.6 C481.4,790.6 487.5,816.1 500.5,816.1 C514.7,816.1 521.4,782.6 542.2,782.6 C566.9,782.6 574.7,829.5 591.5,829.5 C600.0,829.5 604.0,804.2 616.5,804.2 C635.0,804.2 640.9,864.3 653.5,864.3 C667.1,864.3 673.5,794.1 693.4,794.1 C712.0,794.1 717.9,854.3 730.5,854.3 C739.7,854.3 744.0,838.0 757.5,838.0 C771.6,838.0 776.2,862.0 785.8,862.0 C796.7,862.0 801.8,842.5 817.8,842.5 C828.7,842.5 833.1,849.3 839.6,854.8 L839.6,892 L331.6,892 Z" fill="url(#ga)"/>
<path d="M331.6,823.8 C333.2,823.2 334.8,822.7 337.0,822.7 C347.4,822.7 350.7,833.1 357.8,833.1 C369.6,833.1 375.1,799.3 392.5,799.3 C409.5,799.3 414.9,824.3 426.5,824.3 C438.7,824.3 444.4,790.6 462.4,790.6 C481.4,790.6 487.5,816.1 500.5,816.1 C514.7,816.1 521.4,782.6 542.2,782.6 C566.9,782.6 574.7,829.5 591.5,829.5 C600.0,829.5 604.0,804.2 616.5,804.2 C635.0,804.2 640.9,864.3 653.5,864.3 C667.1,864.3 673.5,794.1 693.4,794.1 C712.0,794.1 717.9,854.3 730.5,854.3 C739.7,854.3 744.0,838.0 757.5,838.0 C771.6,838.0 776.2,862.0 785.8,862.0 C796.7,862.0 801.8,842.5 817.8,842.5 C828.7,842.5 833.1,849.3 839.6,854.8" fill="none" stroke="url(#gs)" stroke-width="2.4" stroke-linecap="round"/>
<circle cx="704.8" cy="811.1" r="12" fill="#f6dcc0" fill-opacity=".45"/>
<circle cx="704.8" cy="811.1" r="8" fill="#e4eff3" fill-opacity=".92"/>
<circle cx="704.8" cy="811.1" r="4.2" fill="#123c64"/>
</svg>
<div class="t" style="left:304.5px;top:768px;font-size:11px;color:#333">时段能耗<span style="letter-spacing:1.1px">（kw/h）</span></div>
<div class="abs" style="left:675px;top:768px;width:59px;height:25px;background:#fff;border-radius:4px;box-shadow:0 1px 8px rgba(0,0,0,.13)"></div>
<div class="abs" style="left:700px;top:792px;width:0;height:0;border-left:4.5px solid transparent;border-right:4.5px solid transparent;border-top:5.5px solid #fff"></div>
<div class="t c" style="left:705.4px;top:774.4px;font-size:10.9px;font-weight:bold;color:#1d4a72">1578 kw/h</div>
<div class="t c" style="left:336.8px;top:907.4px;font-size:9.5px;color:#b3b3b3">08:00</div>
<div class="t c" style="left:381.0px;top:907.4px;font-size:9.5px;color:#b3b3b3">09:00</div>
<div class="t c" style="left:430.4px;top:907.4px;font-size:9.5px;color:#b3b3b3">10:00</div>
<div class="t c" style="left:479.7px;top:907.4px;font-size:9.5px;color:#b3b3b3">11:00</div>
<div class="t c" style="left:529.1px;top:907.4px;font-size:9.5px;color:#b3b3b3">12:00</div>
<div class="t c" style="left:578.4px;top:907.4px;font-size:9.5px;color:#b3b3b3">13:00</div>
<div class="t c" style="left:627.8px;top:907.4px;font-size:9.5px;color:#b3b3b3">14:00</div>
<div class="t c" style="left:677.2px;top:907.4px;font-size:9.5px;color:#b3b3b3">15:00</div>
<div class="t c" style="left:726.5px;top:907.4px;font-size:9.5px;color:#b3b3b3">16:00</div>
<div class="t c" style="left:775.9px;top:907.4px;font-size:9.5px;color:#b3b3b3">17:00</div>
<div class="t c" style="left:825.2px;top:907.4px;font-size:9.5px;color:#b3b3b3">18:00</div>

<!-- OPS -->
<div class="card" style="left:870px;top:714px;width:152px;height:216px;border-color:#e0e0e0"></div>
<div class="abs" style="left:871px;top:753px;width:150px;height:1px;background:#e8e8e8"></div>
<div class="t c" style="left:946px;top:728.9px;font-size:11.45px;-webkit-text-stroke:.28px;color:#333">运维总览</div>
<svg class="abs" style="left:896px;top:765px" width="100" height="100" viewBox="-50 -50 100 100">
<circle r="40.7" fill="none" stroke="#adadad" stroke-width="8"/>
<path d="M0,-40.7 A40.7,40.7 0 0 1 32,-25.2" fill="none" stroke="#63809a" stroke-width="8"/>
</svg>
<svg class="abs" style="left:930px;top:790px" width="34" height="32" viewBox="930 790 34 32"><path d="M952.4,797.7 H941.5 L940.4,806.4 C942.6,805.1 944.8,804.9 946.8,804.9 C950.4,804.9 952.8,807 952.8,810.1 C952.8,813.4 950.2,815.6 946.8,815.6 C943.8,815.6 941.6,814.5 940,812.8" fill="none" stroke="#3f6575" stroke-width="1.35"/></svg>
<div class="t c" style="left:946px;top:824px;font-size:9.45px;color:#555">停机设备</div>
<div class="dot" style="left:897px;top:876px;width:8px;height:8px;background:#adadad"></div>
<div class="t" style="left:912px;top:874.8px;font-size:9.45px;color:#333">待完成运维设备： 4</div>
<div class="dot" style="left:897px;top:898px;width:8px;height:8px;background:#63809a"></div>
<div class="t" style="left:912px;top:896.6px;font-size:9.45px;color:#333">已完成运维设备： 1</div>

</div>
</body>
</html>
